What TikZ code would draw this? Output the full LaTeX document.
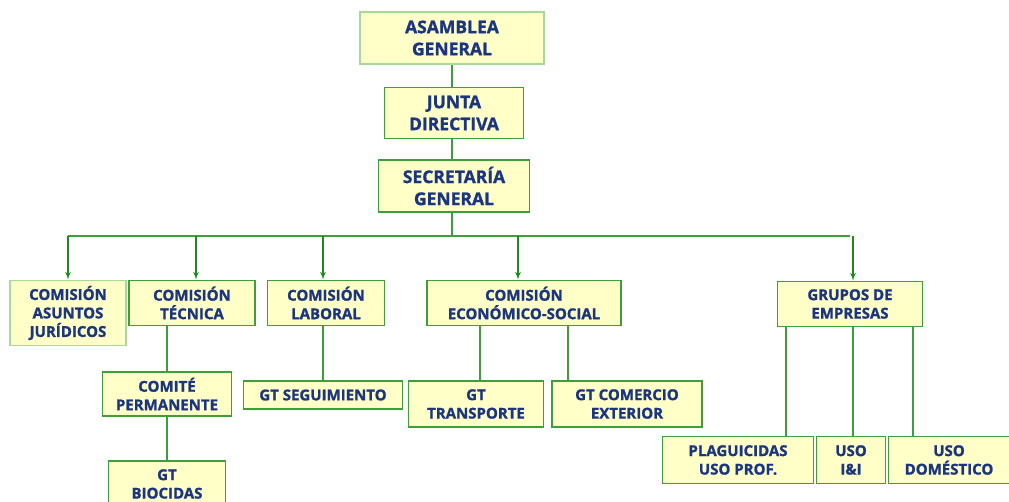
\documentclass[tikz,border=0pt]{standalone}
\usepackage{fontspec}
\usepackage{tikz}
\usetikzlibrary{arrows,positioning}
\newfontfamily\orgfont{Open Sans}[BoldFeatures={FakeBold=1.3}]
\definecolor{boxfill}{HTML}{FFFFC8}
\definecolor{boxgreen}{HTML}{3E9E3A}
\definecolor{palegreen}{HTML}{A6DA98}
\definecolor{arrowgreen}{HTML}{1C8A1C}
\definecolor{textblue}{HTML}{1C3580}
\tikzset{every node/.append style={transform shape=false}}
\tikzset{unit/.style={draw=boxgreen, line width=1.6pt, fill=boxfill, align=center,
    text=textblue, inner sep=1pt,
    font=\orgfont\bfseries\fontsize{15}{18.5}\selectfont}}
\tikzset{topunit/.style={unit, font=\orgfont\bfseries\fontsize{17.5}{22}\selectfont}}
\tikzset{paleunit/.style={draw=palegreen}}
\tikzset{link/.style={draw=boxgreen, line width=1.6pt}}
\tikzset{feed/.style={draw=arrowgreen, line width=1.6pt, -latex'}}

\begin{document}
\begin{tikzpicture}[x=1pt,y=-1pt]
  \useasboundingbox (0,0) rectangle (1009,502);
  % top of the chart
  \node[topunit, paleunit, minimum width=184, minimum height=52] (asamblea) at (452,38) {ASAMBLEA\\GENERAL};
  \node[topunit, minimum width=139, minimum height=51] (junta) at (454,113) {JUNTA\\DIRECTIVA};
  \node[topunit, minimum width=151, minimum height=52] (secretaria) at (454,186) {SECRETARÍA\\GENERAL};
  \draw[link] (asamblea) -- (asamblea |- junta.north);
  \draw[link] (asamblea |- junta.south) -- (asamblea |- secretaria.north);
  % comisiones
  \node[unit, paleunit, minimum width=116, minimum height=65] (juridicos) at (68,313) {COMISIÓN\\ASUNTOS\\JURÍDICOS};
  \node[unit, minimum width=126, minimum height=45] (tecnica) at (192,303) {COMISIÓN\\TÉCNICA};
  \node[unit, minimum width=117, minimum height=45] (laboral) at (326,303) {COMISIÓN\\LABORAL};
  \node[unit, minimum width=194, minimum height=45] (economico) at (524,303) {COMISIÓN\\ECONÓMICO-SOCIAL};
  \node[unit, minimum width=145, minimum height=45] (grupos) at (850,304) {GRUPOS DE\\EMPRESAS};
  \coordinate (bus) at (452,236);
  \draw[link] (asamblea |- secretaria.south) -- (bus);
  \draw[link] (bus -| juridicos) -- (bus -| grupos);
  \foreach \n/\dx in {juridicos/0,tecnica/4,laboral/-3,economico/-6,grupos/3}
    \draw[feed] ([xshift=\dx pt]bus -| \n) -- ([xshift=\dx pt]\n.north);
  % grupos de trabajo
  \node[unit, minimum width=129, minimum height=44] (comite) at (167,394) {COMITÉ\\PERMANENTE};
  \node[unit, minimum width=117, minimum height=46] (biocidas) at (167,484) {GT\\BIOCIDAS};
  \node[unit, minimum width=159, minimum height=28] (seguimiento) at (323,395) {GT SEGUIMIENTO};
  \node[unit, minimum width=135, minimum height=46] (transporte) at (476,404) {GT\\TRANSPORTE};
  \node[unit, minimum width=150, minimum height=46] (comercio) at (627,404) {GT COMERCIO\\EXTERIOR};
  \draw[link] (tecnica.south -| comite) -- (comite);
  \draw[link] (comite) -- (biocidas);
  \draw[link] (laboral.south -| seguimiento) -- (seguimiento);
  \draw[link] ([xshift=-44pt]economico.south) -- ([xshift=-44pt]economico.south |- transporte.north);
  \draw[link] ([xshift=44pt]economico.south) -- ([xshift=44pt]economico.south |- comercio.north);
  % empresas
  \node[unit, minimum width=151, minimum height=47] (plaguicidas) at (738,460) {PLAGUICIDAS\\USO PROF.};
  \node[unit, minimum width=69, minimum height=47] (industrial) at (851,460) {USO\\I\&I};
  \node[unit, minimum width=121, minimum height=47] (domestico) at (949,460) {USO\\DOMÉSTICO};
  \draw[link] ([xshift=-64pt]grupos.south) -- ([xshift=-64pt]grupos.south |- plaguicidas.north);
  \draw[link] ([xshift=3pt]grupos.south) -- ([xshift=3pt]grupos.south |- industrial.north);
  \draw[link] ([xshift=63pt]grupos.south) -- ([xshift=63pt]grupos.south |- domestico.north);
\end{tikzpicture}
\end{document}
